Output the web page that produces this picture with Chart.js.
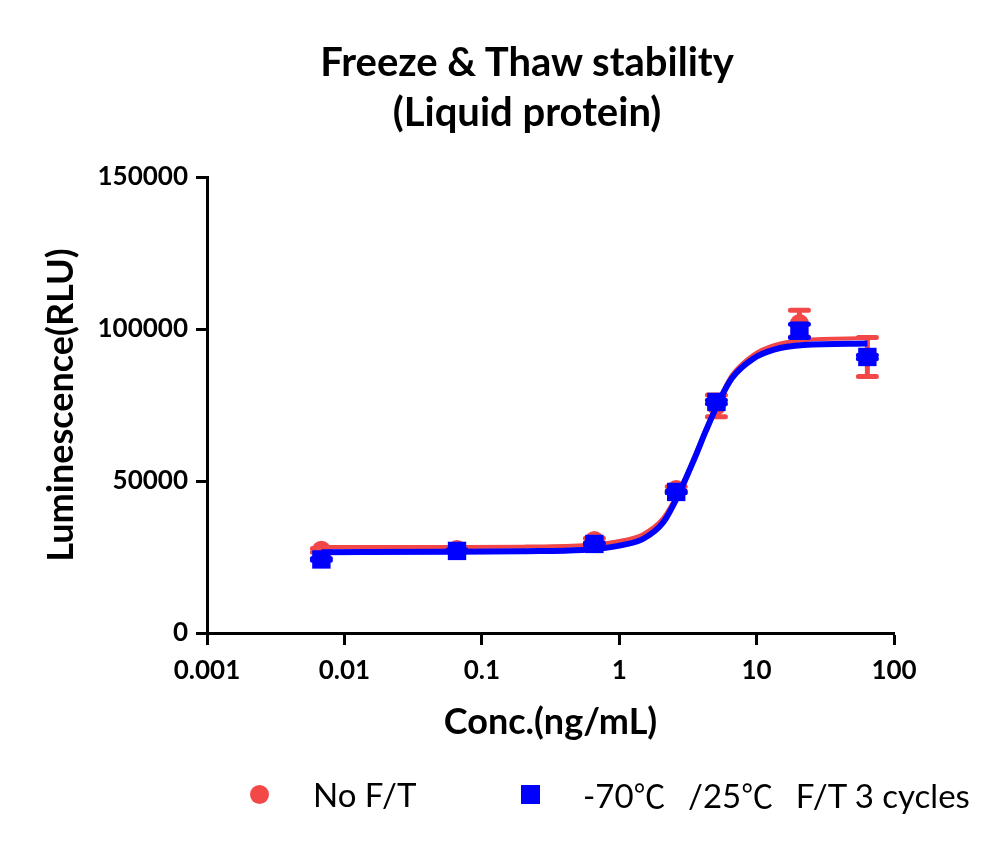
<!DOCTYPE html>
<html>
<head>
<meta charset="utf-8">
<script src="https://cdn.jsdelivr.net/npm/chart.js@4.4.1/dist/chart.umd.min.js"></script>
<style>
  html, body { margin: 0; padding: 0; background: #fff; }
  #wrap { position: relative; width: 1000px; height: 846px; }
  #title { position: absolute; left: 0; width: 1054px; top: 36px; text-align: center;
           font-family: Lato, "Open Sans", sans-serif; font-weight: 700; font-size: 40px; line-height: 50px; color: #000; }
  .lg { position: absolute; font-family: Lato, "Noto Sans", sans-serif; font-size: 33px; color: #000; top: 774px; line-height: 40px; white-space: nowrap; }
  .cj { font-family: "Noto Sans CJK SC", sans-serif; font-size: 32px; padding-right: 14px; }
  .mk { position: absolute; }
</style>
</head>
<body>
<div id="wrap">
  <canvas id="c" width="1000" height="846"></canvas>
  <div id="title">Freeze &amp; Thaw stability<br>(Liquid protein)</div>
  <div class="mk" style="left:250px; top:785px; width:19px; height:19px; border-radius:50%; background:#F24848;"></div>
  <div class="lg" style="left:313px;">No F/T</div>
  <div class="mk" style="left:521px; top:785px; width:19px; height:19px; background:#0000FF;"></div>
  <div class="lg" style="left:583px;">-70<span class="cj">℃</span> /25<span class="cj">℃</span> F/T 3 cycles</div>
</div>
<script>
// ---- data ----
const concentrations = [0.0068, 0.066, 0.66, 2.6, 5.1, 20.5, 64];
const noFT     = [27200, 27500, 30400, 47200, 74700, 101800, 90800];
const noFTErr  = [600, 500, 800, 1000, 3600, 4400, 6400];
const ft3      = [24200, 27000, 29300, 46400, 76000, 99400, 90800];
const ft3Err   = [300, 300, 300, 300, 600, 2200, 600];

// fitted curves
const curveX     = [0.0068, 0.066, 0.2, 0.54, 0.8, 1.07, 1.5, 2.1, 2.7, 3.5, 4.3, 5.3, 6.6, 9.5, 13.4, 22, 64];
const curveNoFT  = [28300, 28300, 28400, 28900, 29500, 30500, 32600, 38000, 46500, 57500, 67200, 76500, 84800, 91600, 94700, 96300, 97000];
const curveFT3   = [26600, 26700, 26900, 27300, 28000, 29000, 31000, 36500, 45500, 57000, 66800, 76000, 83800, 90300, 93200, 94700, 95200];

const xTicks = [0.001, 0.01, 0.1, 1, 10, 100];
const yTicks = [0, 50000, 100000, 150000];

const RED = '#F24848';
const BLUE = '#0000FF';

const pts = (xs, ys) => xs.map((x, i) => ({x, y: ys[i]}));

const errorBars = {
  id: 'errorBars',
  beforeDatasetDraw(chart, args) {
    const ds = chart.data.datasets[args.index];
    if (!ds.errors) return;
    const {ctx, scales: {x, y}} = chart;
    ctx.save();
    ctx.strokeStyle = ds.borderColor;
    ctx.lineWidth = 5;
    ctx.lineCap = 'round';
    ds.data.forEach((p, i) => {
      const e = ds.errors[i];
      const px = x.getPixelForValue(p.x);
      const yt = y.getPixelForValue(p.y + e);
      const yb = y.getPixelForValue(p.y - e);
      ctx.beginPath();
      ctx.moveTo(px, yt); ctx.lineTo(px, yb);
      ctx.moveTo(px - 9, yt); ctx.lineTo(px + 9, yt);
      ctx.moveTo(px - 9, yb); ctx.lineTo(px + 9, yb);
      ctx.stroke();
    });
    ctx.restore();
  }
};

const FONT = 'Lato, "Open Sans", sans-serif';

new Chart(document.getElementById('c'), {
  type: 'line',
  data: {
    datasets: [
      { label: 'No F/T fit', data: pts(curveX, curveNoFT), borderColor: RED, borderWidth: 4,
        pointRadius: 0, cubicInterpolationMode: 'monotone', fill: false, order: 4 },
      { label: 'No F/T', data: pts(concentrations, noFT), errors: noFTErr, borderColor: RED,
        backgroundColor: RED, showLine: false, pointStyle: 'circle', pointRadius: 9.5,
        pointBorderWidth: 0, order: 3 },
      { label: 'F/T 3 fit', data: pts(curveX, curveFT3), borderColor: BLUE, borderWidth: 6,
        pointRadius: 0, cubicInterpolationMode: 'monotone', fill: false, order: 2 },
      { label: '-70℃ /25℃ F/T 3 cycles', data: pts(concentrations, ft3), errors: ft3Err, borderColor: BLUE,
        backgroundColor: BLUE, showLine: false, pointStyle: 'rect', pointRadius: 13,
        pointBorderWidth: 0, order: 1 }
    ]
  },
  options: {
    responsive: false,
    animation: false,
    layout: { padding: { top: 177, right: 106, left: 0, bottom: 0 } },
    plugins: { legend: { display: false }, tooltip: { enabled: false } },
    scales: {
      x: {
        type: 'logarithmic', min: 0.001, max: 100,
        afterBuildTicks: s => { s.ticks = xTicks.map(v => ({value: v})); },
        afterFit: s => { s.height = 213; },
        ticks: { callback: v => String(v), color: '#000', font: { family: FONT, weight: 'bold', size: 26 }, padding: 10, maxRotation: 0 },
        grid: { drawOnChartArea: false, tickLength: 12, tickWidth: 3, tickColor: '#000' },
        border: { color: '#000', width: 3 },
        title: { display: true, text: 'Conc.(ng/mL)', color: '#000', font: { family: FONT, weight: 'bold', size: 36 }, padding: { bottom: 102 } }
      },
      y: {
        min: 0, max: 150000,
        afterBuildTicks: s => { s.ticks = yTicks.map(v => ({value: v})); },
        afterFit: s => { s.width = 207; },
        ticks: { callback: v => String(v), color: '#000', font: { family: FONT, weight: 'bold', size: 26 }, padding: 8 },
        grid: { drawOnChartArea: false, tickLength: 11, tickWidth: 3, tickColor: '#000' },
        border: { color: '#000', width: 3 },
        title: { display: true, text: 'Luminescence(RLU)', color: '#000', font: { family: FONT, weight: 'bold', size: 36 }, padding: { top: 40 } }
      }
    }
  },
  plugins: [errorBars]
});
</script>
</body>
</html>
